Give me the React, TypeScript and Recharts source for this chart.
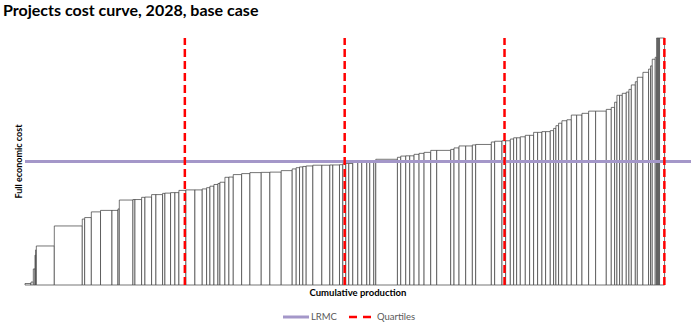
import {
  ComposedChart,
  Line,
  XAxis,
  YAxis,
  CartesianGrid,
  ReferenceArea,
  ReferenceLine,
} from 'recharts';

// project production (width of each step) and full economic cost (height)
const productionWidths = [
  9, 3.5, 2.5, 1, 1, 27, 42, 3.6, 10, 13.8,
  17.2, 9, 2, 20.5, 3, 10, 5, 10, 6.5, 10,
  3.5, 8.5, 6.5, 6, 10.5, 13.5, 11, 6.6, 5, 6,
  6, 3, 7.5, 6, 6.5, 12.6, 12.4, 17, 13, 17,
  16.5, 6, 5, 5, 5, 10, 13.5, 12, 4.5, 10,
  5, 4.5, 4.5, 6, 7.5, 6, 7.5, 4.5, 6, 3,
  32.5, 5, 7.5, 6, 6.5, 7.5, 7.5, 10, 9, 21,
  5, 7.5, 10, 10, 5, 23.5, 5, 11, 5.5, 7,
  5, 4.5, 5.5, 7.5, 6.5, 6, 6, 6.5, 5.5, 7,
  5, 3.5, 4, 5, 7.5, 6.6, 8, 8, 10, 10.5,
  16, 7.5, 5, 3.5, 4, 4, 6, 4, 3.6, 6,
  3, 8.4, 8.5, 3, 2.5, 4.5, 2, 1.5, 1.5, 1.5, 7.5,
];

const projectCosts = [
  0.6, 1.2, 6.5, 12.1, 14.2, 15.8, 23.9, 26.7, 27.3, 29.6,
  30.2, 30.2, 30.8, 34.4, 34.6, 34.6, 35.5, 35.6, 36.6, 36.6,
  37.1, 37.2, 37.4, 37.4, 38.3, 38.5, 38.5, 38.9, 39.4, 40.0,
  40.7, 41.1, 41.6, 43.6, 43.7, 44.7, 45.1, 45.5, 45.6, 45.7,
  46.3, 47.0, 47.5, 47.8, 48.0, 48.2, 48.5, 48.5, 48.6, 48.6,
  48.7, 49.1, 49.2, 49.2, 49.6, 49.6, 49.8, 49.8, 50.0, 50.0,
  50.9, 51.7, 52.2, 52.3, 52.3, 52.9, 53.3, 53.7, 54.5, 54.5,
  54.9, 55.5, 56.3, 56.3, 56.7, 56.9, 57.9, 58.2, 58.4, 58.4,
  59.1, 59.6, 59.6, 60.0, 60.6, 60.6, 61.8, 61.8, 62.1, 62.1,
  62.5, 63.4, 64.5, 65.5, 66.5, 66.9, 68.8, 68.8, 69.5, 70.4,
  70.4, 71.1, 71.9, 74.0, 76.8, 76.8, 77.6, 78.1, 79.2, 81.0,
  82.3, 84.1, 86.1, 87.4, 88.7, 91.4, 92.2, 100, 100, 100, 100,
];

const quartiles = [240, 480, 720, 960];
const lrmcCost = 50;
const xTicks = [0, 250, 500, 750, 1000];

const lrmcData = [
  { x: 0, lrmc: lrmcCost },
  { x: 1000, lrmc: lrmcCost },
];

// cumulative start/end of each project
const projects: { x1: number; x2: number; cost: number }[] = [];
let cum = 0;
productionWidths.forEach((w, i) => {
  projects.push({ x1: cum, x2: cum + w, cost: projectCosts[i] });
  cum += w;
});

const FONT = 'Lato, "Open Sans", sans-serif';

export default function App() {
  return (
    <div style={{ position: 'absolute', left: 0, top: 0, width: 698, height: 327, background: '#fff', fontFamily: FONT }}>
      <div style={{ position: 'absolute', left: 3, top: 1, fontSize: 16, fontWeight: 700, color: '#000', lineHeight: '18px', whiteSpace: 'nowrap' }}>
        Projects cost curve, 2028, base case
      </div>
      <ComposedChart
        width={698}
        height={327}
        data={lrmcData}
        margin={{ top: 38, right: 7, left: 12, bottom: 27 }}
      >
        <CartesianGrid vertical horizontal={false} stroke="#e3e3e3" verticalValues={xTicks} />
        <XAxis
          type="number"
          dataKey="x"
          domain={[0, 1000]}
          ticks={xTicks}
          tick={false}
          tickLine={false}
          axisLine={false}
          height={15}
          label={{ value: 'Cumulative production', position: 'center', style: { fontSize: 9.5, fontWeight: 700, fill: '#000', fontFamily: FONT } }}
        />
        <YAxis
          type="number"
          domain={[0, 100]}
          tick={false}
          tickLine={false}
          axisLine={false}
          width={13}
          label={{ value: 'Full economic cost', angle: -90, position: 'center', style: { fontSize: 9, fontWeight: 700, fill: '#000', fontFamily: FONT } }}
        />
        {projects.map((p, i) => (
          <ReferenceArea
            key={`p-${i}`}
            x1={p.x1}
            x2={p.x2}
            y1={0}
            y2={p.cost}
            fill="#fff"
            fillOpacity={1}
            stroke="#3a3a3a"
            strokeWidth={0.7}
          />
        ))}
        <Line
          type="linear"
          dataKey="lrmc"
          stroke="#a497c9"
          strokeWidth={3}
          dot={false}
          activeDot={false}
          isAnimationActive={false}
        />
        {quartiles.map((q) => (
          <ReferenceLine key={`q-${q}`} x={q} stroke="#ff0000" strokeWidth={2.5} strokeDasharray="8 4" />
        ))}
      </ComposedChart>
      <div style={{ position: 'absolute', top: 311, left: 0, width: 698, display: 'flex', justifyContent: 'center', alignItems: 'center', fontSize: 9.5, color: '#595959' }}>
        <svg width={26} height={6} style={{ marginRight: 2 }}>
          <line x1={0} y1={3} x2={26} y2={3} stroke="#a497c9" strokeWidth={3} />
        </svg>
        <span style={{ marginRight: 12 }}>LRMC</span>
        <svg width={22} height={6} style={{ marginRight: 6 }}>
          <line x1={0} y1={3} x2={22} y2={3} stroke="#ff0000" strokeWidth={2.5} strokeDasharray="8 6" />
        </svg>
        <span>Quartiles</span>
      </div>
    </div>
  );
}
